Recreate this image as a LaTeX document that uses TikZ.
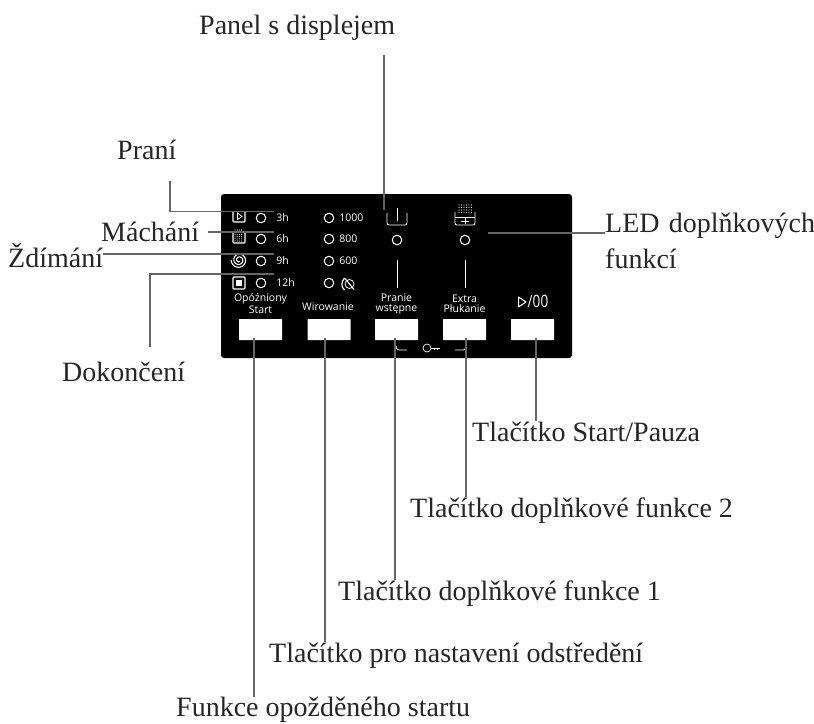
\documentclass[tikz,border=0pt]{standalone}
\usepackage{fontspec}
\setmainfont{Liberation Serif}
\newfontfamily\panelfont{Open Sans}
\tikzset{
	label/.style={anchor=base west,inner sep=0pt,text=black!85,font=\fontsize{28}{36}\selectfont},
	leader/.style={draw=black!60,line width=1.3pt},
	btn/.style={fill=white,minimum width=43pt,minimum height=21pt,inner sep=0pt,rounded corners=.5pt},
	led/.style={circle,draw=white,line width=1pt,minimum size=9.5pt,inner sep=0pt},
	ptxt/.style={text=white,inner sep=0pt,align=center,font=\panelfont\fontsize{10.5}{10}\selectfont},
	icon/.style={draw=white,line width=.8pt},
}
\begin{document}
\begin{tikzpicture}[x=1pt,y=-1pt]
	\useasboundingbox (0,0) rectangle (814,723);
	\fill[black,rounded corners=3pt] (221,194) rectangle (572,358);
	% buttons and leds
	\foreach \n/\x in {Delay/260.5,Spin/329,Opt/396.5,Extra/464.5,Start/532.5}
	\node[btn] (btn\n) at (\x,329.5) {};
	\foreach \n/\y in {a/218,b/239,c/261,d/283}
	{\node[led] (led\n) at (261,\y) {};
	\node[led] (rpm\n) at (329,\y) {};}
	\node[led] (ledOpt) at (397,240) {};
	\node[led] (ledExtra) at (465,240) {};
	% panel texts
	\foreach \n/\t in {a/3h,b/6h,c/9h,d/12h}
	\node[ptxt,anchor=west] at ([xshift=10pt]led\n.east) {\t};
	\foreach \n/\t in {a/1000,b/800,c/600}
	\node[ptxt,anchor=west] at ([xshift=5pt]rpm\n.east) {\t};
	\node[ptxt] at (260.5,303.5) {Opóźniony\\Start};
	\node[ptxt] at (328,307) {Wirowanie};
	\node[ptxt] at (396.5,303.5) {Pranie\\wstępne};
	\node[ptxt] at (464.5,303.5) {Extra\\Płukanie};
	\node[ptxt,font=\panelfont\fontsize{17}{17}\selectfont,xscale=.8] at (538,301.5) {/00};
	\draw[icon,line width=1pt,line join=round] (518.5,297) -- (526,302) -- (518.5,307) -- cycle;
	% programme icons
	\draw[icon,line width=1.1pt,rounded corners=1pt] (233,211) -- (233,222) -- (245,222) -- (245,211);
	\draw[icon] (237.5,213) -- (242,216.5) -- (237.5,219.5) -- cycle;
	\draw[icon,line width=1.1pt,rounded corners=1pt] (233,231) -- (233,243) -- (245,243) -- (245,231);
	\foreach \x in {235,237.2,...,243.5}
	\foreach \y in {230,232.2,...,241.5}
	\fill[white!85!black] (\x,\y) circle (.6);
	\draw[icon,line width=1.1pt,domain=60:900,samples=80,smooth] plot ({239+(1+\x/130)*cos(\x)},{260+(1+\x/130)*sin(\x)});
	\draw[icon,line width=1.2pt,rounded corners=1pt] (233,277) rectangle (245,289);
	\fill[white] (236,280) rectangle (242,286);
	% no spin
	\node[circle,draw=white,line width=.8pt,minimum size=9pt,inner sep=0pt] (noSpin) at (349.5,284) {};
	\draw[icon,line width=1.2pt] (344.5,278) .. controls (341,282) and (341,287) .. (344.5,290);
	\draw[icon,line width=1.1pt] (345,278.5) -- (354,289.5);
	% tubs
	\draw[icon,rounded corners=2pt] (387,213) -- (387,225) -- (407,225) -- (407,213);
	\draw[icon] (397,208) -- (397,221);
	\draw[icon,rounded corners=2pt] (455,212) -- (455,225) -- (475,225) -- (475,212);
	\draw[icon] (455,217) -- (475,217);
	\draw[icon] (461,221) -- (469,221) (465,218) -- (465,224);
	\foreach \x in {459,461.5,...,472}
	\foreach \y in {205,207.5,...,214}
	\fill[white!85!black] (\x,\y) circle (.65);
	\draw[icon] (397,260) -- (397,288);
	\draw[icon] (465,260) -- (465,288);
	% key lock
	\draw[icon,rounded corners=1.5pt] (396,346) -- (397,350) -- (407,350);
	\draw[icon,rounded corners=1.5pt] (455,350) -- (465,350) -- (466,346);
	\node[circle,draw=white,line width=.7pt,minimum size=8pt,inner sep=0pt] (keyRing) at (427,348) {};
	\draw[icon,line width=.7pt] (keyRing.east) -- (440,348) (437,348) -- (437,350) (434,348) -- (434,350);
	% labels
	\node[label] (lblPanel) at (199,34) {Panel s displejem};
	\node[label] (lblWash) at (117,159) {Praní};
	\node[label] (lblRinse) at (101,241) {Máchání};
	\node[label] (lblSpin) at (8,267) {Ždímání};
	\node[label] (lblDone) at (62,381) {Dokončení};
	\node[label,text width=240pt,align=left] (lblLed) at (605,232) {LED doplňkových\\funkcí};
	\node[label] (lblStart) at (472,441) {Tlačítko Start/Pauza};
	\node[label] (lblExtra) at (410,517) {Tlačítko doplňkové funkce 2};
	\node[label] (lblOpt) at (338,600) {Tlačítko doplňkové funkce 1};
	\node[label] (lblSpeed) at (269,662) {Tlačítko pro nastavení odstředění};
	\node[label] (lblDelay) at (176,716.5) {Funkce opožděného startu};
	% leaders
	\coordinate (topPanel) at (384,55);
	\draw[leader] (topPanel) -- (384,210);
	\coordinate (topWash) at (170,181);
	\draw[leader] (topWash) |- (274,211.5);
	\draw[leader] (208,232) -- (274,232);
	\draw[leader] (lblSpin.east |- 0,254) -- (274,254);
	\coordinate (topDone) at (150,347);
	\draw[leader] (topDone) |- (274,274);
	\draw[leader] (488,233) -- (lblLed.west |- 0,233);
	\foreach \n/\x/\l in {Delay/254/lblDelay,Spin/325/lblSpeed,Opt/395/lblOpt,Extra/466/lblExtra,Start/536/lblStart}
	\draw[leader] ([yshift=2pt]\x,0 |- btn\n.south) -- (\x,0 |- \l.north);
\end{tikzpicture}
\end{document}
